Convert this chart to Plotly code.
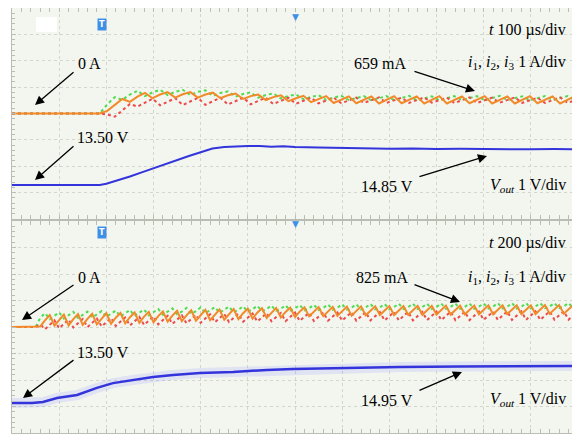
import plotly.graph_objects as go

# ---------------- data ----------------
# top panel: 100 us/div, currents 1 A/div, Vout 1 V/div
t_top = [0] + list(range(186, 1200, 16))
i1_top = [0.00,
          0.00, 0.35, 0.62, 0.52, 0.72, 0.86, 0.66, 0.80, 0.90, 0.70, 0.82, 0.90, 0.70, 0.82, 0.88, 0.67,
          0.78, 0.84, 0.64, 0.74, 0.80, 0.60, 0.70, 0.76, 0.57, 0.66, 0.72, 0.54, 0.63, 0.69, 0.52, 0.60,
          0.67, 0.51, 0.59, 0.66, 0.50, 0.58, 0.66, 0.51, 0.59, 0.67, 0.50, 0.58, 0.65, 0.50, 0.59, 0.66,
          0.51, 0.58, 0.66, 0.50, 0.59, 0.67, 0.51, 0.58, 0.65, 0.50, 0.58, 0.66, 0.51, 0.59, 0.66, 0.50]
i2_top = [0.00,
          0.00, 0.10, 0.34, 0.55, 0.44, 0.64, 0.78, 0.58, 0.72, 0.81, 0.60, 0.73, 0.81, 0.60, 0.72, 0.79,
          0.58, 0.69, 0.76, 0.55, 0.66, 0.72, 0.51, 0.62, 0.69, 0.47, 0.58, 0.67, 0.43, 0.55, 0.66, 0.40,
          0.53, 0.65, 0.39, 0.52, 0.65, 0.38, 0.52, 0.66, 0.39, 0.53, 0.65, 0.38, 0.52, 0.66, 0.38, 0.52,
          0.65, 0.39, 0.53, 0.66, 0.38, 0.52, 0.65, 0.38, 0.52, 0.66, 0.39, 0.53, 0.65, 0.38, 0.52, 0.66]
i3_top = [0.00,
          0.00, -0.04, -0.12, 0.12, 0.36, 0.26, 0.42, 0.56, 0.31, 0.45, 0.58, 0.32, 0.46, 0.59, 0.33, 0.47,
          0.60, 0.34, 0.48, 0.60, 0.35, 0.48, 0.60, 0.36, 0.49, 0.60, 0.37, 0.49, 0.60, 0.38, 0.49, 0.60,
          0.39, 0.50, 0.60, 0.40, 0.50, 0.61, 0.40, 0.50, 0.60, 0.40, 0.50, 0.61, 0.41, 0.50, 0.60, 0.40,
          0.50, 0.61, 0.40, 0.50, 0.60, 0.41, 0.50, 0.61, 0.40, 0.50, 0.60, 0.40, 0.50, 0.61, 0.40, 0.50]
tv_top = [0, 186, 200, 225, 250, 275, 300, 325, 350, 375, 400, 425, 450, 475, 500, 525, 550, 575,
          600, 650, 700, 750, 800, 850, 900, 950, 1000, 1050, 1100, 1150, 1200]
vout_top = [13.50, 13.50, 13.55, 13.68, 13.82, 13.98, 14.14, 14.30, 14.45, 14.60, 14.74, 14.88, 14.94,
            14.97, 14.98, 14.98, 14.95, 14.97, 14.94, 14.92, 14.90, 14.89, 14.87, 14.88, 14.86, 14.87,
            14.86, 14.86, 14.85, 14.86, 14.85]

# bottom panel: 200 us/div
t_bot = [0] + list(range(100, 2400, 20))
i1_bot = [0.00, 0.00,
          0.35, 0.52, 0.30, 0.42, 0.55, 0.32, 0.44, 0.57, 0.34, 0.46, 0.58, 0.36, 0.47, 0.60, 0.38,
          0.49, 0.62, 0.40, 0.51, 0.64, 0.42, 0.53, 0.66, 0.44, 0.55, 0.68, 0.46, 0.57, 0.70, 0.48,
          0.58, 0.72, 0.50, 0.60, 0.74, 0.52, 0.62, 0.75, 0.54, 0.64, 0.77, 0.56, 0.65, 0.78, 0.58,
          0.67, 0.80, 0.60, 0.68, 0.81, 0.61, 0.69, 0.82, 0.62, 0.70, 0.83, 0.63, 0.71, 0.84, 0.64,
          0.72, 0.85, 0.65, 0.73, 0.86, 0.66, 0.73, 0.86, 0.66, 0.74, 0.87, 0.67, 0.74, 0.87, 0.67,
          0.75, 0.88, 0.68, 0.75, 0.88, 0.68, 0.75, 0.88, 0.68, 0.76, 0.89, 0.69, 0.76, 0.89, 0.69,
          0.76, 0.89, 0.69, 0.77, 0.89, 0.70, 0.77, 0.90, 0.70, 0.77, 0.90, 0.70, 0.77, 0.90, 0.70,
          0.78, 0.90, 0.71, 0.78, 0.90, 0.71, 0.78, 0.90, 0.71]
i2_bot = [0.00, 0.00,
          0.02, 0.25, 0.45, 0.05, 0.28, 0.47, 0.06, 0.30, 0.49, 0.08, 0.31, 0.50, 0.10, 0.33, 0.52,
          0.12, 0.35, 0.53, 0.14, 0.37, 0.55, 0.16, 0.39, 0.57, 0.18, 0.41, 0.59, 0.20, 0.43, 0.61,
          0.22, 0.44, 0.63, 0.24, 0.46, 0.65, 0.26, 0.48, 0.66, 0.28, 0.50, 0.68, 0.30, 0.52, 0.69,
          0.32, 0.54, 0.71, 0.34, 0.55, 0.72, 0.36, 0.57, 0.73, 0.38, 0.58, 0.74, 0.40, 0.59, 0.75,
          0.41, 0.60, 0.76, 0.42, 0.61, 0.77, 0.43, 0.62, 0.78, 0.44, 0.63, 0.78, 0.45, 0.63, 0.79,
          0.45, 0.64, 0.79, 0.46, 0.64, 0.80, 0.46, 0.65, 0.80, 0.47, 0.65, 0.81, 0.47, 0.65, 0.81,
          0.48, 0.66, 0.81, 0.48, 0.66, 0.82, 0.48, 0.66, 0.82, 0.49, 0.67, 0.82, 0.49, 0.67, 0.82,
          0.49, 0.67, 0.83, 0.50, 0.67, 0.83, 0.50, 0.67, 0.83]
i3_bot = [0.00, 0.00,
          0.10, -0.08, 0.08, 0.25, -0.05, 0.12, 0.28, -0.02, 0.14, 0.30, 0.00, 0.16, 0.32, 0.02, 0.18,
          0.34, 0.04, 0.20, 0.36, 0.06, 0.22, 0.38, 0.08, 0.24, 0.40, 0.10, 0.26, 0.42, 0.12, 0.28,
          0.44, 0.14, 0.30, 0.46, 0.16, 0.32, 0.48, 0.18, 0.34, 0.49, 0.19, 0.35, 0.50, 0.20, 0.36,
          0.51, 0.21, 0.37, 0.52, 0.22, 0.38, 0.53, 0.22, 0.38, 0.54, 0.23, 0.39, 0.54, 0.23, 0.39,
          0.55, 0.24, 0.40, 0.55, 0.24, 0.40, 0.56, 0.24, 0.41, 0.56, 0.25, 0.41, 0.56, 0.25, 0.41,
          0.57, 0.25, 0.42, 0.57, 0.25, 0.42, 0.57, 0.26, 0.42, 0.58, 0.26, 0.42, 0.58, 0.26, 0.43,
          0.58, 0.26, 0.43, 0.58, 0.27, 0.43, 0.58, 0.27, 0.43, 0.59, 0.27, 0.43, 0.59, 0.27, 0.44,
          0.59, 0.27, 0.44, 0.59, 0.28, 0.44, 0.59, 0.28, 0.44]
tv_bot = [0, 85, 131, 191, 276, 360, 428, 513, 598, 683, 797, 937, 1081, 1191, 1400, 1645, 1900, 2150, 2400]
vout_bot = [13.50, 13.50, 13.54, 13.69, 13.80, 14.07, 14.25, 14.37, 14.48, 14.56, 14.63, 14.67,
            14.75, 14.78, 14.83, 14.86, 14.88, 14.89, 14.90]

labels_top = ["0 A", "13.50 V", "659 mA", "14.85 V"]
labels_bot = ["0 A", "13.50 V", "825 mA", "14.95 V"]
div_top = "<i>t</i> 100 µs/div"
div_bot = "<i>t</i> 200 µs/div"
div_i = "<i>i</i><sub>1</sub>, <i>i</i><sub>2</sub>, <i>i</i><sub>3</sub> 1 A/div"
div_v = "<i>V</i><sub><i>out</i></sub> 1 V/div"

# ---------------- styling ----------------
OFF = 8                     # page body margin of the browser
W, H = 580 - OFF, 435 - OFF  # figure size so that it fills the window
BG = "#f3f6ef"
GRID = "#d2d6cd"
EDGE = "#b9bdb4"
C_G, C_O, C_R, C_B = "#4fdc4f", "#f28a2a", "#ee4a4a", "#3434dc"
FONT = "Liberation Serif"

def px(x, y):
    """screen pixel -> paper coordinates"""
    return (x - OFF) / W, 1 - (y - OFF) / H

fig = go.Figure()

def add_currents(xa, ya, t, i1, i2, i3):
    fig.add_trace(go.Scatter(x=t, y=i1, xaxis=xa, yaxis=ya, mode="lines",
                             line=dict(color=C_G, width=2, dash="dot")))
    fig.add_trace(go.Scatter(x=t, y=i3, xaxis=xa, yaxis=ya, mode="lines",
                             line=dict(color=C_R, width=2, dash="dot")))
    fig.add_trace(go.Scatter(x=t, y=i2, xaxis=xa, yaxis=ya, mode="lines",
                             line=dict(color=C_O, width=2)))

add_currents("x", "y", t_top, i1_top, i2_top, i3_top)
fig.add_trace(go.Scatter(x=tv_top, y=vout_top, xaxis="x", yaxis="y2", mode="lines",
                         line=dict(color=C_B, width=2)))
add_currents("x2", "y3", t_bot, i1_bot, i2_bot, i3_bot)
fig.add_trace(go.Scatter(x=tv_bot, y=vout_bot, xaxis="x2", yaxis="y4", mode="lines",
                         line=dict(color="rgba(110,110,255,0.14)", width=10)))
fig.add_trace(go.Scatter(x=tv_bot, y=vout_bot, xaxis="x2", yaxis="y4", mode="lines",
                         line=dict(color=C_B, width=2.5)))

def xax(rng, dt, anchor):
    return dict(domain=[px(12, 0)[0], px(578, 0)[0]], anchor=anchor, range=rng, tick0=0, dtick=dt,
                showgrid=True, gridcolor=GRID, griddash="dot", gridwidth=1,
                showticklabels=False, zeroline=False, showline=True, linecolor=EDGE,
                mirror="allticks", ticks="inside", ticklen=4, tickcolor=EDGE,
                minor=dict(dtick=dt / 5, ticks="inside", ticklen=3, tickcolor=EDGE, showgrid=False))

def yax(dom, anchor):
    return dict(domain=dom, anchor=anchor, range=[-4, 4], tick0=0, dtick=1,
                showgrid=True, gridcolor=GRID, griddash="dot", gridwidth=1,
                showticklabels=False, zeroline=False, showline=True, linecolor=EDGE,
                mirror="allticks", ticks="inside", ticklen=4, tickcolor=EDGE,
                minor=dict(dtick=0.2, ticks="inside", ticklen=3, tickcolor=EDGE, showgrid=False))

top_dom = [px(0, 219)[1], px(0, 8)[1]]
bot_dom = [max(0.0, px(0, 433)[1]), px(0, 221)[1]]

fig.update_layout(
    width=W, height=H, margin=dict(l=0, r=0, t=0, b=0),
    paper_bgcolor="white", plot_bgcolor=BG, showlegend=False,
    xaxis=xax([0, 1200], 100, "y"),
    yaxis=yax(top_dom, "x"),
    yaxis2=dict(overlaying="y", anchor="x", range=[12.21, 20.21], visible=False),
    xaxis2=xax([0, 2400], 200, "y3"),
    yaxis3=yax(bot_dom, "x2"),
    yaxis4=dict(overlaying="y3", anchor="x2", range=[12.368, 20.368], visible=False),
)

ann = []
def text(s, x, y, anchor="center"):
    X, Y = px(x, y)
    ann.append(dict(text=s, x=X, y=Y, xref="paper", yref="paper", showarrow=False,
                    xanchor=anchor, yanchor="middle", font=dict(family=FONT, size=16, color="black")))

def arrow(tx, ty, hx, hy):
    X, Y = px(hx, hy)
    ann.append(dict(text="", x=X, y=Y, xref="paper", yref="paper", ax=tx - hx, ay=ty - hy,
                    showarrow=True, arrowhead=2, arrowsize=1.4, arrowwidth=1.3, arrowcolor="black"))

# top panel
text(labels_top[0], 89, 63); arrow(75, 71, 35, 105)
text(labels_top[1], 103, 137); arrow(75, 145, 35, 180)
text(labels_top[2], 380, 63); arrow(413, 71, 475, 91)
text(labels_top[3], 387, 186); arrow(418, 177, 487, 156)
text(div_top, 568, 30, "right")
text(div_i, 568, 62, "right")
text(div_v, 568, 185, "right")
# bottom panel
text(labels_bot[0], 89, 277); arrow(75, 284, 22, 320)
text(labels_bot[1], 103, 352); arrow(75, 359, 23, 398)
text(labels_bot[2], 382, 277); arrow(413, 284, 460, 302)
text(labels_bot[3], 387, 400); arrow(418, 391, 462, 372)
text(div_bot, 568, 243, "right")
text(div_i, 568, 277, "right")
text(div_v, 568, 399, "right")

# trigger markers
for yy in (18, 232):
    X, Y = px(97, yy)
    ann.append(dict(text="<b>T</b>", x=X, y=Y, xref="paper", yref="paper", showarrow=False,
                    bgcolor="#3f8fe6", borderpad=1, font=dict(family="DejaVu Sans", size=8, color="white")))
for yy in (10, 224):
    X, Y = px(295, yy)
    ann.append(dict(text="▼", x=X, y=Y, xref="paper", yref="paper", showarrow=False,
                    font=dict(family="DejaVu Sans", size=9, color="#3f8fe6")))

fig.update_layout(annotations=ann)

x0, y0 = px(36, 17); x1, y1 = px(57, 32)
fig.add_shape(type="rect", xref="paper", yref="paper", x0=x0, y0=y1, x1=x1, y1=y0,
              fillcolor="white", line=dict(width=0))

fig.write_html("out.html")
